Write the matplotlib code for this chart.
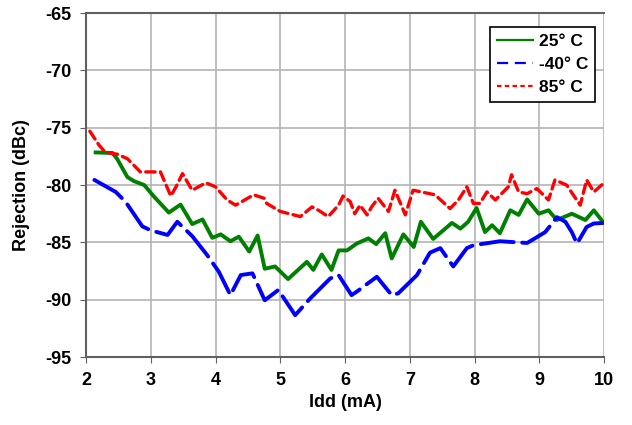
import matplotlib

matplotlib.use("Agg")
import matplotlib.pyplot as plt
from matplotlib.lines import Line2D

plt.rcParams["font.family"] = ["Liberation Sans", "DejaVu Sans"]
plt.rcParams["font.weight"] = "bold"
plt.rcParams["axes.unicode_minus"] = False

# 25 C
x_25 = [2.15, 2.41, 2.48, 2.64, 2.74, 2.90, 3.05, 3.28, 3.46, 3.64, 3.80, 3.95,
        4.08, 4.23, 4.36, 4.52, 4.65, 4.76, 4.92, 5.12, 5.41, 5.51, 5.64, 5.79,
        5.90, 6.03, 6.18, 6.36, 6.48, 6.62, 6.72, 6.90, 7.06, 7.17, 7.36, 7.65,
        7.78, 7.90, 8.03, 8.16, 8.27, 8.39, 8.55, 8.68, 8.81, 8.99, 9.14, 9.27,
        9.50, 9.71, 9.84, 9.98]
y_25 = [-77.15, -77.2, -77.7, -79.3, -79.65, -80.0, -81.0, -82.4, -81.7, -83.4,
        -83.0, -84.6, -84.3, -84.9, -84.5, -85.8, -84.4, -87.3, -87.1, -88.2,
        -86.7, -87.4, -86.05, -87.4, -85.7, -85.7, -85.1, -84.65, -85.15, -84.2,
        -86.4, -84.3, -85.4, -83.2, -84.7, -83.3, -83.8, -83.2, -82.0, -84.1,
        -83.5, -84.2, -82.2, -82.6, -81.25, -82.5, -82.2, -83.05, -82.5, -83.05,
        -82.2, -83.2]

# -40 C
x_m40 = [2.13, 2.46, 2.61, 2.87, 3.00, 3.26, 3.41, 3.64, 3.87, 4.05, 4.23, 4.39,
         4.57, 4.76, 4.97, 5.23, 5.46, 5.77, 5.90, 6.10, 6.18, 6.49, 6.72, 6.82,
         7.11, 7.31, 7.47, 7.67, 7.88, 7.98, 8.39, 8.81, 8.93, 9.09, 9.27, 9.40,
         9.50, 9.58, 9.73, 9.84, 9.99]
y_m40 = [-79.55, -80.6, -81.45, -83.6, -83.95, -84.35, -83.2, -84.45, -86.1,
         -87.55, -89.6, -87.85, -87.7, -90.05, -89.15, -91.35, -89.9, -88.15,
         -87.85, -89.6, -89.3, -88.0, -89.6, -89.45, -87.85, -85.9, -85.5, -87.1,
         -85.5, -85.25, -84.9, -85.05, -84.65, -84.1, -82.8, -83.2, -84.1, -85.1,
         -83.65, -83.35, -83.3]

# 85 C
x_85 = [2.06, 2.20, 2.30, 2.48, 2.64, 2.84, 2.97, 3.15, 3.31, 3.39, 3.49, 3.64,
        3.85, 4.00, 4.18, 4.31, 4.59, 4.75, 4.79, 5.00, 5.31, 5.49, 5.59, 5.74,
        5.90, 5.97, 6.08, 6.15, 6.23, 6.34, 6.41, 6.51, 6.67, 6.77, 6.93, 7.05,
        7.18, 7.39, 7.62, 7.75, 7.88, 7.98, 8.08, 8.19, 8.32, 8.52, 8.57, 8.68,
        8.81, 8.96, 9.14, 9.24, 9.42, 9.63, 9.73, 9.84, 9.99]
y_85 = [-75.3, -76.5, -77.15, -77.3, -77.7, -78.85, -78.85, -78.85, -80.95,
        -80.15, -79.0, -80.45, -79.8, -80.15, -81.3, -81.75, -80.85, -81.15,
        -81.6, -82.3, -82.75, -81.9, -82.2, -82.75, -81.75, -80.95, -81.45,
        -82.5, -81.75, -82.6, -81.9, -81.15, -82.3, -80.45, -82.6, -80.45,
        -80.6, -80.85, -82.05, -81.3, -80.15, -81.6, -81.6, -80.6, -81.3,
        -80.15, -79.1, -80.6, -80.75, -80.3, -81.3, -79.55, -80.0, -81.75,
        -79.55, -80.6, -79.85]

labels = ["25° C", "-40° C", "85° C"]
colors = ["#008000", "#0000ff", "#ff0000"]
x_ticks = [2, 3, 4, 5, 6, 7, 8, 9, 10]
y_ticks = [-95, -90, -85, -80, -75, -70, -65]

fig = plt.figure(figsize=(6.32, 4.25), dpi=100)
ax = fig.add_axes([0.136, 0.16, 0.82, 0.809])

ax.plot(x_25, y_25, color=colors[0], lw=2.8, solid_joinstyle="round")
ax.plot(x_m40, y_m40, color=colors[1], lw=2.8, dashes=(8.5, 2.2),
        dash_capstyle="round", dash_joinstyle="round")
ax.plot(x_85, y_85, color=colors[2], lw=2.4, dashes=(2.8, 1.6),
        dash_capstyle="round", dash_joinstyle="round")

ax.set_xlim(2, 10)
ax.set_ylim(-95, -65)
ax.set_xticks(x_ticks)
ax.set_yticks(y_ticks)
ax.grid(True, color="#b4b4b4", lw=1.2)
ax.set_axisbelow(True)
ax.spines["right"].set_visible(False)
for side in ["left", "bottom", "top"]:
    ax.spines[side].set_color("#606060")
    ax.spines[side].set_linewidth(1.5)
ax.tick_params(labelsize=13, length=4.5, color="#606060", pad=6)
ax.set_xlabel("Idd (mA)", fontsize=13, fontweight="bold", labelpad=4)
ax.set_ylabel("Rejection (dBc)", fontsize=13, fontweight="bold", labelpad=11)

# thinner proxy handles like the original legend
handles = [
    Line2D([], [], color=colors[0], lw=1.6),
    Line2D([], [], color=colors[1], lw=1.6, dashes=(5, 3)),
    Line2D([], [], color=colors[2], lw=1.6, dashes=(2, 1.5)),
]
leg = ax.legend(handles, labels, loc="upper right",
                bbox_to_anchor=(0.983, 0.959), borderaxespad=0,
                fontsize=12.5, frameon=True, fancybox=False, edgecolor="black",
                framealpha=1, handlelength=2.1, labelspacing=0.45,
                handletextpad=0.35, borderpad=0.4)
leg.get_frame().set_linewidth(1.2)

fig.savefig("out.png", dpi=100)
